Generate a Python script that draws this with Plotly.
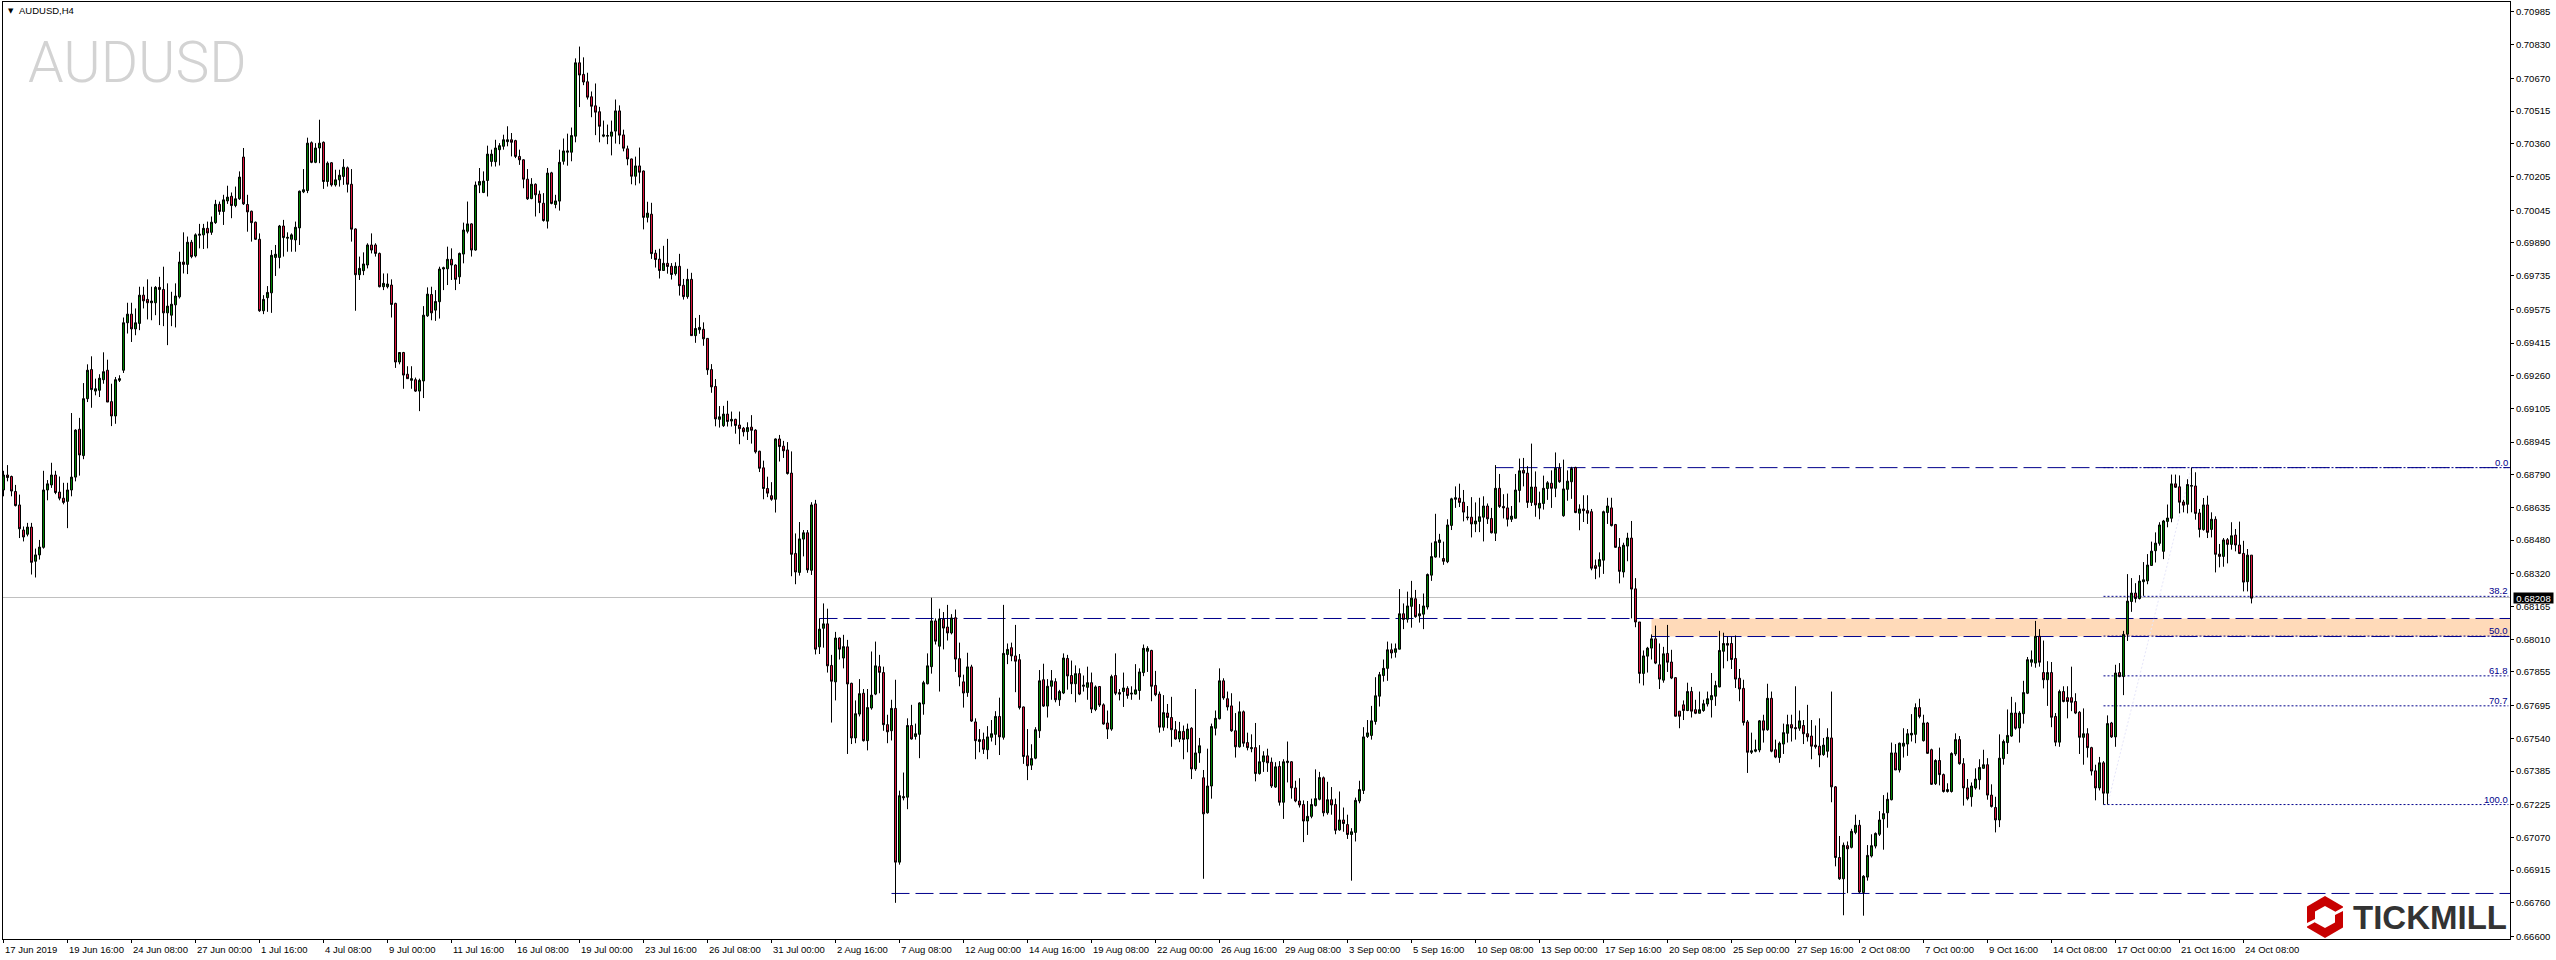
import plotly.graph_objects as go

# Prices in 1e-5 units, one line per ten H4 candles.
direction = (
    "GRRRRRGRGG" "GGGRRRGGGR" "GGRGGGRRGG" "GGRGGRRGGR" "RGGGGRGRGG"
    "GRGGRGGRGG" "RRRRRGGGGG" "RGGGGGGRGG" "RGRGGGRRRG" "GGRRRGGRRG"
    "RRGRGGGRGG" "GGRRGGGRGG" "GGGGGGGRRR" "RRGRRRGRGG" "GGGGRRRRRR"
    "GGGGRRRRGR" "RGRRRGRRGR" "RGRGGRRRRG" "GRGRRRGRRR" "RRRGRRRRRG"
    "GRGRGGRRGR" "GRRGGRGGGR" "RRGRGGGRGG" "GGGRGRRGRR" "RGRRGRGGGR"
    "GGRRRRRGGG" "RGGRGGRRGR" "GGRGRRRGRR" "GRGGGGGRRR" "GRRRGRGRGG"
    "RGGGGRRRRG" "RRGRGGRRGR" "GGRRRRGGGG" "RGRRGRRGGG" "GGGGGGGRGG"
    "RGGRGGGGGG" "RGGGRRGRGG" "GRRGRRRGGG" "RRGRGGGRGR" "GGGRGRRRRG"
    "GGRRRGGRRR" "GGGRRGRRRR" "RGRRGGGGGG" "GRRRRRRGGG" "RGRRGGGRRG"
    "RRRRRGGRRR" "GRGGRGGGGG" "GGGRGGGGGR" "GRRGRRGGGR" "RRGGGGRRRG"
    "GGGRGGGGGR" "RGRRGRRRRR" "GRRRGRGRGR" "GGGRGGGGGG" "GGGRRRGGRR"
    "GRGRRGRGRR" "RGR"
)

body_top = [
    68789,68789,68782,68711,68647,68528,68542,68542,68410,68447,
    68718,68747,68789,68789,68708,68679,68718,68779,69002,69006,
    69151,69286,69289,69198,69248,69279,69286,69137,69241,69246,
    69511,69552,69552,69511,69642,69642,69622,69614,69679,69679,
    69669,69590,69599,69638,69799,69799,69893,69893,69928,69931,
    69959,69959,69988,70073,70073,70094,70107,70111,70099,70202,
    70297,70072,70040,69988,69907,69622,69655,69831,69836,69970,
    69970,69916,69928,69964,70135,70142,70363,70365,70340,70363,
    70367,70268,70270,70189,70211,70249,70246,70168,69956,69769,
    69790,69880,69880,69880,69840,69698,69695,69690,69603,69370,
    69370,69267,69246,69241,69238,69547,69647,69645,69612,69766,
    69772,69812,69812,69785,69840,69951,69980,69980,70164,70181,
    70183,70311,70311,70340,70351,70379,70379,70379,70375,70300,
    70284,70192,70168,70168,70121,70078,70221,70222,70089,70272,
    70326,70326,70399,70744,70744,70689,70654,70583,70540,70512,
    70402,70399,70416,70516,70516,70402,70336,70288,70255,70255,
    70231,70031,70026,69841,69813,69793,69793,69779,69779,69779,
    69689,69717,69717,69484,69489,69480,69437,69289,69209,69065,
    69078,69078,69053,69053,69026,69011,69014,69016,69002,68902,
    68823,68725,68691,68960,68960,68926,68908,68798,68417,68486,
    68515,68515,68647,68652,68058,68083,68083,67886,68016,68016,
    67975,67974,67801,67657,67752,67754,67686,67745,67884,67880,
    67852,67605,67682,67682,67268,67263,67601,67601,67562,67708,
    67804,67884,68097,68097,68107,68105,68068,68111,68112,67918,
    67808,67879,67879,67618,67534,67534,67547,67562,67644,67644,
    67943,67962,67970,67931,67913,67689,67457,67444,67581,67813,
    67818,67787,67813,67809,67762,67921,67919,67838,67847,67847,
    67792,67804,67804,67784,67786,67699,67613,67833,67838,67757,
    67779,67777,67754,67770,67855,67967,67967,67957,67791,67750,
    67662,67660,67639,67581,67573,67573,67584,67588,67471,67505,
    67353,67314,67596,67635,67813,67813,67728,67694,67576,67666,
    67666,67520,67496,67496,67429,67457,67457,67427,67405,67407,
    67429,67432,67429,67305,67243,67226,67170,67226,67254,67354,
    67353,67249,67249,67226,67153,67153,67131,67097,67246,67297,
    67547,67566,67623,67742,67842,67872,67960,67960,67965,68131,
    68131,68168,68205,68202,68131,68168,68317,68402,68473,68481,
    68393,68552,68676,68681,68679,68660,68589,68589,68571,68591,
    68642,68642,68583,68726,68726,68640,68633,68594,68718,68809,
    68811,68798,68732,68732,68655,68726,68752,68750,68821,68821,
    68723,68760,68820,68825,68628,68628,68620,68615,68359,68388,
    68615,68642,68633,68554,68447,68456,68490,68490,68249,68092,
    67931,67968,68012,68012,67889,67941,67943,67902,67828,67669,
    67699,67762,67762,67676,67676,67704,67728,67743,67791,67957,
    67990,67990,67990,67919,67825,67777,67618,67481,67486,67623,
    67623,67730,67730,67486,67517,67567,67605,67605,67591,67623,
    67601,67562,67551,67508,67503,67508,67545,67542,67310,66975,
    67033,67031,67099,67128,67128,66886,66985,67031,67089,67153,
    67183,67251,67471,67471,67517,67517,67562,67564,67686,67686,
    67613,67613,67486,67435,67435,67368,67297,67468,67534,67534,
    67420,67305,67314,67347,67402,67415,67415,67271,67212,67446,
    67525,67554,67660,67660,67660,67757,67913,67913,68024,68024,
    67852,67852,67852,67644,67762,67762,67733,67733,67715,67664,
    67562,67562,67496,67386,67424,67424,67610,67613,67850,67852,
    68033,68191,68229,68229,68286,68292,68362,68428,68466,68552,
    68571,68585,68747,68747,68733,68661,68744,68739,68737,68609,
    68647,68647,68579,68579,68414,68481,68482,68501,68504,68457,
    68417,68409,68409,
]

body_bottom = [
    68718,68777,68713,68644,68534,68495,68508,68375,68380,68410,
    68446,68718,68742,68706,68679,68659,68664,68718,68779,68884,
    68881,69151,69194,69187,69191,69241,69135,69069,69069,69238,
    69286,69511,69482,69482,69508,69615,69606,69606,69606,69669,
    69558,69558,69547,69596,69634,69788,69788,69825,69828,69926,
    69928,69937,69940,69986,70039,70039,70089,70067,70067,70099,
    70075,70037,69986,69907,69568,69568,69630,69653,69821,69821,
    69915,69912,69907,69904,69961,70132,70138,70272,70272,70340,
    70181,70181,70165,70165,70189,70205,70168,69955,69739,69739,
    69758,69785,69856,69840,69682,69682,69682,69598,69325,69325,
    69263,69246,69238,69187,69187,69235,69544,69558,69571,69611,
    69766,69767,69785,69717,69729,69837,69945,69856,69856,70164,
    70129,70186,70276,70275,70332,70348,70370,70367,70300,70284,
    70192,70099,70100,70118,70081,69996,69993,70077,70072,70088,
    70277,70320,70320,70396,70686,70653,70581,70538,70510,70443,
    70396,70396,70396,70420,70401,70339,70288,70206,70206,70225,
    70011,70011,69839,69811,69759,69759,69778,69740,69744,69687,
    69635,69635,69450,69450,69478,69435,69288,69207,69055,69053,
    69023,69043,69045,69024,69009,68994,68995,69001,68899,68821,
    68725,68703,68674,68674,68924,68904,68796,68413,68329,68327,
    68485,68339,68337,67963,67974,68062,67884,67811,67808,67963,
    67921,67798,67542,67542,67655,67529,67529,67684,67750,67853,
    67605,67571,67576,66953,66953,67258,67261,67537,67549,67559,
    67703,67799,67880,68001,67977,68063,68040,68040,67916,67831,
    67755,67757,67622,67529,67525,67488,67486,67545,67559,67547,
    67545,67938,67931,67906,67686,67454,67410,67413,67446,67576,
    67693,67693,67787,67723,67723,67755,67836,67799,67799,67750,
    67787,67782,67679,67677,67698,67608,67584,67584,67754,67750,
    67762,67743,67750,67750,67767,67852,67953,67787,67747,67593,
    67593,67639,67581,67537,67537,67535,67537,67395,67395,67471,
    67182,67187,67314,67588,67633,67732,67689,67576,67500,67500,
    67517,67496,67491,67373,67373,67429,67424,67314,67309,67237,
    67237,67425,67305,67243,67224,67148,67148,67170,67221,67251,
    67187,67187,67224,67104,67106,67136,67084,67084,67094,67243,
    67293,67549,67554,67620,67740,67838,67872,67945,67948,67963,
    68104,68105,68166,68117,68121,68129,68163,68314,68400,68469,
    68380,68378,68550,68674,68659,68613,68586,68557,68557,68569,
    68589,68581,68515,68513,68640,68633,68579,68579,68584,68716,
    68798,68659,68659,68647,68632,68654,68725,68726,68726,68757,
    68596,68721,68757,68611,68608,68620,68608,68347,68346,68356,
    68385,68611,68549,68446,68332,68329,68452,68248,68092,67848,
    67848,67930,67968,67897,67821,67816,67901,67826,67645,67645,
    67672,67672,67669,67659,67659,67672,67703,67723,67740,67784,
    67953,67982,67914,67821,67774,67615,67474,67474,67479,67485,
    67579,67581,67479,67451,67449,67513,67564,67589,67586,67588,
    67562,67547,67503,67500,67461,67463,67479,67310,66975,66874,
    66874,67016,67023,67094,66811,66809,66882,66982,67029,67085,
    67158,67187,67249,67390,67390,67503,67513,67556,67559,67644,
    67529,67469,67322,67325,67368,67288,67288,67288,67466,67420,
    67305,67254,67263,67305,67344,67398,67271,67217,67153,67153,
    67444,67520,67551,67588,67589,67657,67754,67901,67897,67901,
    67818,67818,67640,67522,67522,67715,67715,67711,67660,67545,
    67545,67496,67385,67305,67305,67280,67280,67547,67547,67833,
    67833,68034,68189,68203,68203,68283,68287,68360,68430,68465,
    68427,68569,68584,68731,68660,68646,68650,68736,68607,68531,
    68530,68517,68531,68413,68403,68403,68460,68460,68457,68417,
    68281,68283,68205,
]

high = [
    68809,68836,68786,68742,68696,68545,68562,68562,68440,68481,
    68809,68765,68847,68809,68782,68752,68752,69083,69006,69060,
    69225,69314,69352,69246,69267,69371,69336,69222,69254,69262,
    69536,69606,69606,69579,69682,69682,69717,69682,69685,69729,
    69777,69698,69658,69698,69848,69940,69920,69904,69935,69980,
    69980,69991,70015,70094,70086,70118,70161,70129,70157,70229,
    70340,70118,70043,69991,69935,69642,69685,69856,69880,69975,
    69999,69940,69935,69991,70138,70240,70389,70371,70363,70474,
    70371,70276,70273,70237,70237,70287,70252,70240,69959,69825,
    69845,69888,69935,69888,69844,69745,69745,69717,69606,69370,
    69373,69305,69305,69251,69246,69590,69679,69682,69666,69777,
    69777,69872,69864,69788,69844,69986,70086,69983,70181,70245,
    70229,70351,70332,70379,70363,70403,70443,70411,70379,70332,
    70287,70240,70197,70172,70138,70126,70245,70227,70118,70332,
    70385,70408,70437,70765,70821,70770,70697,70608,70646,70535,
    70470,70451,70470,70570,70542,70427,70351,70290,70299,70342,
    70233,70085,70080,69857,69862,69876,69909,69794,69798,69838,
    69719,69767,69748,69534,69548,69513,69438,69315,69244,69116,
    69117,69141,69090,69056,69090,69017,69039,69073,69006,68904,
    68857,68781,68755,68963,68979,68951,68945,68901,68512,68566,
    68528,68528,68660,68671,68109,68180,68155,67936,68045,68019,
    68031,68007,67804,67720,67821,67774,67774,67952,67999,67936,
    67880,67652,67723,67818,67292,67378,67635,67699,67610,67711,
    67813,67943,68207,68109,68155,68139,68173,68129,68151,67994,
    67842,67946,67889,67635,67584,67567,67598,67627,67669,67733,
    68173,67990,67994,68078,67940,67691,67584,67512,67593,67864,
    67894,67821,67864,67825,67770,67943,67936,67909,67886,67872,
    67838,67880,67852,67791,67787,67706,67672,67842,67943,67774,
    67852,67787,67787,67892,67872,67985,67977,67960,67860,67762,
    67745,67703,67737,67622,67618,67601,67610,67593,67774,67542,
    67390,67491,67610,67672,67872,67825,67762,67754,67660,67715,
    67672,67567,67559,67613,67508,67479,67491,67449,67427,67432,
    67441,67525,67432,67339,67351,67246,67243,67254,67393,67381,
    67359,67334,67309,67254,67288,67212,67178,67114,67259,67339,
    67593,67627,67694,67830,67855,67914,67999,67990,67990,68248,
    68180,68236,68287,68244,68177,68227,68322,68468,68605,68510,
    68473,68579,68681,68735,68748,68718,68642,68684,68659,68681,
    68688,68654,68633,68836,68794,68698,68701,68642,68794,68867,
    68870,68831,68938,68806,68710,68786,68760,68811,68896,68845,
    68862,68811,68828,68828,68650,68693,68693,68628,68388,68422,
    68620,68681,68681,68557,68490,68468,68515,68571,68300,68092,
    67957,67974,68033,68075,67990,67974,68078,67960,67830,67669,
    67720,67804,67784,67723,67762,67723,67762,67850,67813,68050,
    68041,68024,68021,68028,67869,67818,67627,67567,67534,67627,
    67652,67799,67762,67534,67525,67610,67652,67652,67787,67672,
    67627,67699,67627,67601,67635,67542,67588,67762,67314,67077,
    67046,67051,67111,67178,67153,66891,67034,67085,67094,67195,
    67271,67283,67520,67513,67520,67588,67584,67655,67706,67728,
    67652,67618,67491,67441,67496,67373,67327,67474,67564,67551,
    67446,67347,67331,67398,67441,67486,67446,67322,67263,67559,
    67534,67677,67737,67711,67669,67813,67926,67957,68097,68058,
    68004,67906,67902,67660,67771,67787,67787,67880,67754,67669,
    67682,67588,67500,67415,67452,67432,67649,67618,67889,67897,
    68050,68319,68300,68276,68314,68376,68414,68473,68517,68565,
    68576,68649,68791,68791,68787,68671,68769,68823,68802,68628,
    68680,68691,68612,68593,68462,68490,68490,68565,68533,68568,
    68477,68438,68409,
]

low = [
    68688,68759,68688,68640,68490,68474,68498,68317,68303,68388,
    68440,68669,68728,68698,68669,68650,68537,68688,68759,68786,
    68864,69135,69108,69167,69159,69222,69135,69021,69032,69230,
    69273,69460,69420,69452,69476,69579,69527,69523,69547,69500,
    69495,69405,69495,69489,69626,69745,69742,69817,69821,69864,
    69861,69864,69928,69980,70023,69975,70075,70007,70059,70094,
    70070,69943,69896,69904,69563,69552,69563,69558,69733,69769,
    69825,69848,69848,69848,69880,70126,70126,70268,70268,70268,
    70146,70157,70157,70157,70157,70165,70129,69896,69568,69714,
    69737,69769,69840,69825,69679,69666,69674,69536,69297,69314,
    69198,69246,69198,69183,69092,69154,69539,69523,69520,69531,
    69666,69690,69714,69666,69695,69793,69935,69825,69853,70126,
    70126,70110,70252,70252,70257,70332,70348,70300,70292,70260,
    70149,70094,70097,70015,70031,69991,69958,70073,70054,70043,
    70261,70256,70277,70367,70534,70638,70570,70486,70401,70367,
    70391,70358,70305,70361,70358,70324,70258,70168,70163,70172,
    69954,69987,69814,69773,69721,69759,69744,69716,69735,69640,
    69621,69625,69450,69416,69459,69402,69264,69179,69020,69014,
    69017,69019,69019,68985,68935,68972,68955,68938,68891,68803,
    68674,68684,68667,68611,68853,68870,68791,68309,68271,68312,
    68403,68325,68315,67938,67940,67970,67852,67615,67720,67914,
    67872,67466,67513,67517,67644,67525,67483,67676,67745,67754,
    67576,67517,67530,66760,66941,67246,67204,67534,67534,67446,
    67652,67796,67847,67985,67762,67962,68004,68033,67855,67787,
    67686,67737,67618,67441,67474,67466,67441,67525,67508,67461,
    67534,67892,67906,67759,67677,67419,67342,67390,67441,67542,
    67689,67639,67723,67711,67694,67750,67771,67750,67711,67745,
    67762,67723,67660,67669,67689,67605,67537,67576,67745,67720,
    67689,67728,67723,67748,67723,67835,67855,67716,67740,67567,
    67576,67588,67500,67534,67522,67441,67474,67347,67386,67424,
    66874,67183,67254,67554,67630,67723,67672,67571,67449,67496,
    67500,67483,67474,67336,67368,67381,67381,67305,67305,67221,
    67158,67331,67254,67237,67212,67048,67082,67161,67217,67246,
    67170,67178,67178,67085,67102,67097,67063,66865,67051,67232,
    67276,67542,67534,67605,67691,67809,67813,67919,67923,67962,
    68058,68089,68065,68112,68089,68058,68151,68287,68397,68397,
    68363,68371,68528,68633,68637,68569,68574,68493,68518,68518,
    68474,68557,68512,68476,68633,68583,68545,68566,68583,68659,
    68735,68633,68642,68591,68579,68625,68671,68633,68684,68752,
    68591,68667,68676,68608,68527,68566,68557,68337,68295,68303,
    68320,68557,68545,68444,68275,68303,68380,68109,68067,67801,
    67791,67852,67914,67892,67774,67804,67855,67821,67644,67588,
    67627,67669,67639,67655,67660,67666,67691,67639,67694,67782,
    67872,67906,67869,67779,67716,67601,67376,67466,67474,67474,
    67520,67576,67474,67446,67424,67466,67520,67525,67534,67576,
    67513,67525,67441,67491,67403,67457,67449,67237,66933,66869,
    66701,66806,67018,67085,66806,66699,66865,66975,67018,67077,
    67012,67116,67246,67390,67378,67449,67457,67525,67517,67635,
    67525,67466,67319,67319,67317,67283,67283,67283,67457,67415,
    67221,67246,67216,67297,67297,67395,67249,67212,67094,67119,
    67415,67466,67547,67581,67520,67610,67750,67880,67875,67880,
    67777,67694,67593,67503,67500,67711,67635,67669,67655,67466,
    67415,67449,67364,67246,67293,67226,67226,67542,67500,67830,
    67745,68002,68140,68184,68199,68216,68271,68359,68374,68454,
    68390,68541,68565,68728,68607,68612,68607,68612,68577,68493,
    68525,68490,68493,68327,68351,68354,68370,68435,68427,68414,
    68237,68237,68180,
]

date_labels = [
    "17 Jun 2019","19 Jun 16:00","24 Jun 08:00","27 Jun 00:00","1 Jul 16:00","4 Jul 08:00",
    "9 Jul 00:00","11 Jul 16:00","16 Jul 08:00","19 Jul 00:00","23 Jul 16:00","26 Jul 08:00",
    "31 Jul 00:00","2 Aug 16:00","7 Aug 08:00","12 Aug 00:00","14 Aug 16:00","19 Aug 08:00",
    "22 Aug 00:00","26 Aug 16:00","29 Aug 08:00","3 Sep 00:00","5 Sep 16:00","10 Sep 08:00",
    "13 Sep 00:00","17 Sep 16:00","20 Sep 08:00","25 Sep 00:00","27 Sep 16:00","2 Oct 08:00",
    "7 Oct 00:00","9 Oct 16:00","14 Oct 08:00","17 Oct 00:00","21 Oct 16:00","24 Oct 08:00",
]
price_ticks = [
    "0.70985","0.70830","0.70670","0.70515","0.70360","0.70205","0.70045","0.69890","0.69735",
    "0.69575","0.69415","0.69260","0.69105","0.68945","0.68790","0.68635","0.68480","0.68320",
    "0.68165","0.68010","0.67855","0.67695","0.67540","0.67385","0.67225","0.67070","0.66915",
    "0.66760","0.66600",
]
last_price = 0.68208
level_res_top = 0.681085
level_res_bottom = 0.68023
level_support = 0.668044
fib_0 = 0.68824
fib_100 = 0.67226
fib_levels = [0.0, 38.2, 50.0, 61.8, 70.7, 100.0]

n = min(len(direction), len(body_top), len(body_bottom), len(high), len(low))
xs = list(range(n))
opens = [(body_bottom[i] if direction[i] == "G" else body_top[i]) / 1e5 for i in xs]
closes = [(body_top[i] if direction[i] == "G" else body_bottom[i]) / 1e5 for i in xs]
highs = [max(high[i], body_top[i]) / 1e5 for i in xs]
lows = [min(low[i], body_bottom[i]) / 1e5 for i in xs]

W, H = 2556, 960
L, R, T, B = 3, 46, 2, 21
X_START, X_END = -0.125, 626.625
SANS = "Liberation Sans, sans-serif"
LABEL_SIZE = 9.5
BLUE = "#00008B"


def fx(px):
    return (px - L) / (W - L - R)


def fy(py):
    return 1 - (py - T) / (H - T - B)


fig = go.Figure(
    go.Candlestick(
        x=xs, open=opens, high=highs, low=lows, close=closes,
        increasing=dict(line=dict(color="black", width=1), fillcolor="#008000"),
        decreasing=dict(line=dict(color="black", width=1), fillcolor="#DC143C"),
        whiskerwidth=0, hoverinfo="skip", showlegend=False,
    )
)

shapes = [
    dict(type="rect", xref="x", yref="y", x0=412, x1=X_END, y0=level_res_bottom, y1=level_res_top,
         fillcolor="#FFDAB9", line_width=0, layer="below"),
    dict(type="line", xref="paper", yref="y", x0=0, x1=1, y0=last_price, y1=last_price,
         line=dict(color="#C0C0C0", width=1), layer="below"),
]
for lvl, start in [(level_res_top, 204), (level_res_bottom, 412), (level_support, 222), (fib_0, 373)]:
    shapes.append(dict(type="line", xref="x", yref="y", x0=start, x1=X_END, y0=lvl, y1=lvl,
                       line=dict(color=BLUE, width=1, dash="18px,6px"), layer="below"))
for f in fib_levels:
    v = fib_0 - (fib_0 - fib_100) * f / 100
    shapes.append(dict(type="line", xref="x", yref="y", x0=525, x1=X_END - 0.4, y0=v, y1=v,
                       line=dict(color=BLUE, width=1, dash="2px,2px"), layer="below"))
shapes.append(dict(type="line", xref="x", yref="y", x0=526, x1=547, y0=fib_100, y1=fib_0,
                   line=dict(color="#E6E6FA", width=1, dash="2px,2px"), layer="below"))


def poly(points, color):
    d = "M " + " L ".join(f"{fx(a):.6f} {fy(b):.6f}" for a, b in points) + " Z"
    return dict(type="path", xref="paper", yref="paper", path=d, fillcolor=color, line_width=0)


cx, cy = 2325.0, 917.0
shapes.append(poly([(cx, cy - 21), (cx + 18, cy - 10.5), (cx + 18, cy + 10.5), (cx, cy + 21),
                    (cx - 18, cy + 10.5), (cx - 18, cy - 10.5)], "#C80000"))
shapes.append(poly([(cx, cy - 11), (cx + 10, cy - 5.5), (cx + 10, cy + 5.5), (cx, cy + 11),
                    (cx - 10, cy + 5.5), (cx - 10, cy - 5.5)], "white"))
shapes.append(poly([(cx - 18, cy + 6), (cx - 8, cy + 1), (cx - 8, cy + 4), (cx - 18, cy + 9.5)], "white"))
shapes.append(poly([(cx + 8, cy - 4), (cx + 18, cy - 9.5), (cx + 18, cy - 6), (cx + 8, cy - 1)], "white"))

annotations = []
for k, text in enumerate(date_labels):
    annotations.append(dict(x=16 * k, y=0, xref="x", yref="paper", text=text, showarrow=False,
                            xanchor="left", yanchor="top", yshift=-3, xshift=-1,
                            font=dict(family=SANS, size=LABEL_SIZE, color="black")))
for f in fib_levels:
    v = fib_0 - (fib_0 - fib_100) * f / 100
    annotations.append(dict(x=X_END - 0.4, y=v, xref="x", yref="y", text=f"{f:.1f}", showarrow=False,
                            xanchor="right", yanchor="bottom", yshift=-2, xshift=2,
                            font=dict(family=SANS, size=LABEL_SIZE, color=BLUE)))
annotations += [
    dict(x=fx(2513), y=last_price, xref="paper", yref="y", text=f"{last_price:.5f}", showarrow=False,
         xanchor="left", yanchor="middle", bgcolor="black", borderpad=0, width=39, height=10,
         font=dict(family=SANS, size=LABEL_SIZE, color="white")),
    dict(x=fx(17), y=fy(11), xref="paper", yref="paper", text="AUDUSD,H4", showarrow=False,
         xanchor="left", yanchor="middle", font=dict(family=SANS, size=LABEL_SIZE, color="black")),
    dict(x=fx(6), y=fy(11), xref="paper", yref="paper", text="▼", showarrow=False,
         xanchor="left", yanchor="middle", font=dict(family="DejaVu Sans", size=7, color="black")),
    dict(x=fx(26), y=fy(62), xref="paper", yref="paper", text="AUDUSD", showarrow=False,
         xanchor="left", yanchor="middle",
         font=dict(family="Roboto", weight=300, size=57, color="#D3D3D3")),
    dict(x=fx(2509), y=fy(917), xref="paper", yref="paper", text="<b>TICKMILL</b>", showarrow=False,
         xanchor="right", yanchor="middle", font=dict(family="Liberation Sans", size=33, color="#333333")),
]

fig.update_layout(
    width=W, height=H, autosize=False,
    margin=dict(l=L, r=R, t=T, b=B, pad=0),
    paper_bgcolor="white", plot_bgcolor="white",
    showlegend=False, hovermode=False,
    boxgap=0, boxgroupgap=0.5,
    shapes=shapes, annotations=annotations,
    xaxis=dict(
        range=[X_START, X_END], rangeslider=dict(visible=False), showgrid=False, zeroline=False,
        tickmode="array", tickvals=[16 * k for k in range(len(date_labels))],
        showticklabels=False, ticks="outside", ticklen=3, tickcolor="black", tickwidth=1,
        showline=True, linecolor="black", linewidth=1, mirror=True,
    ),
    yaxis=dict(
        side="right", range=[0.665884, 0.710324], showgrid=False, zeroline=False,
        tickmode="array", tickvals=[float(t) for t in price_ticks], ticktext=price_ticks,
        ticks="outside", ticklen=3, tickcolor="black", tickwidth=1,
        tickfont=dict(family=SANS, size=LABEL_SIZE, color="black"),
        showline=True, linecolor="black", linewidth=1, mirror=True,
    ),
)

fig.write_html(
    "out.html",
    config={"displayModeBar": False},
    post_script="document.body.style.margin='0';document.body.style.overflow='hidden';",
)
